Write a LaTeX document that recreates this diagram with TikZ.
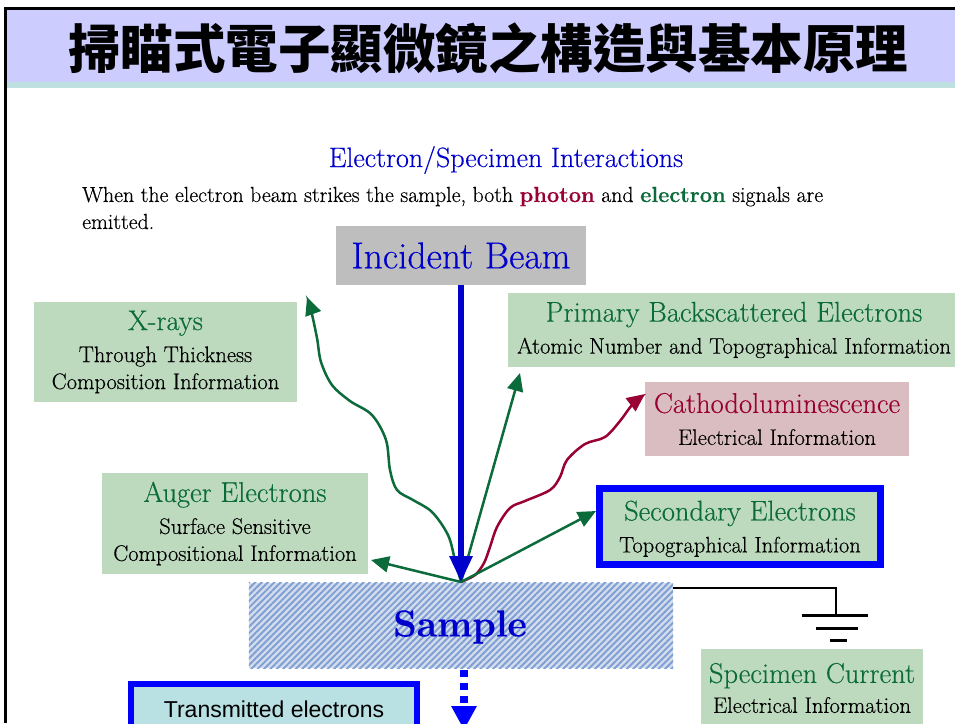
\documentclass[tikz,border=0pt]{standalone}
\usepackage{fontspec}
\setmainfont{Latin Modern Roman}[FakeBold=0.35]
\newfontfamily\cjkfont{Noto Sans CJK TC}
\newfontfamily\arialfont{Liberation Sans}
\usetikzlibrary{arrows.meta,patterns.meta}
\definecolor{lav}{HTML}{CCCCFF}
\definecolor{tealstrip}{HTML}{BFE0E0}
\definecolor{gfill}{HTML}{BDDABE}
\definecolor{pfill}{HTML}{DABDC0}
\definecolor{tgreen}{HTML}{0B6B3A}
\definecolor{crim}{HTML}{990033}
\definecolor{tblue}{HTML}{0000CC}
\definecolor{bblue}{HTML}{0000FF}
\definecolor{grayfill}{HTML}{BEBEBE}
\definecolor{transfill}{HTML}{B9E0E2}
\definecolor{stripe}{HTML}{7E9FD6}
\definecolor{samplebg}{HTML}{D3DCEA}
\newcommand{\boxtitle}[2]{{\fontsize{28.5}{28}\selectfont\color{#1}#2}}
\tikzset{
  gbox/.style={fill=gfill, inner sep=0pt, align=center, font=\fontsize{22.5}{27}\selectfont},
  pbox/.style={gbox, fill=pfill},
  garrow/.style={draw=tgreen, line width=2.5pt, -{Triangle[length=18pt,width=16pt]}},
  carrow/.style={draw=crim, line width=2.5pt, -{Triangle[length=18pt,width=16pt]}},
  barrow/.style={draw=tblue, line width=6pt, -{Triangle[length=26pt,width=22pt]}},
}
\begin{document}
\begin{tikzpicture}[x=1pt,y=-1pt]
\useasboundingbox (0,0) rectangle (955,723);
\fill[white] (0,0) rectangle (955,723);
% title band
\fill[lav] (5,9) rectangle (955,82);
\fill[tealstrip] (5,82) rectangle (955,88);
\draw[line width=3pt] (5,723) -- (5,8.5) -- (955,8.5);
\node (title) at (488,48) {\cjkfont\bfseries\fontsize{52.5}{56}\selectfont 掃瞄式電子顯微鏡之構造與基本原理};
% heading
\node[text=tblue, font=\fontsize{28}{30}\selectfont] (heading) at (506,160) {Electron/Specimen Interactions};
\node[anchor=west, align=left, font=\fontsize{21.8}{27}\selectfont, inner sep=0pt] (intro) at (82,208)
  {When the electron beam strikes the sample, both {\bfseries\color{crim}photon} and {\bfseries\color{tgreen}electron} signals are\\ emitted.};
% incident beam
\node[fill=grayfill, minimum width=250pt, minimum height=59pt, inner sep=0pt, text=tblue, font=\fontsize{37.5}{40}\selectfont] (incident) at (461,255.5) {Incident Beam};
% boxes
\node[gbox, minimum width=263pt, minimum height=100pt] (xray) at (165.5,352)
  {\boxtitle{tgreen}{X-rays}\\[5pt] Through Thickness\\ Composition Information};
\node[gbox, minimum width=452pt, minimum height=74pt] (primary) at (734,330)
  {\boxtitle{tgreen}{Primary Backscattered Electrons}\\[5pt] Atomic Number and Topographical Information};
\node[pbox, minimum width=264pt, minimum height=74pt] (cathodo) at (777,419)
  {\boxtitle{crim}{Cathodoluminescence}\\[5pt] Electrical Information};
\node[gbox, minimum width=266pt, minimum height=101pt] (auger) at (235,523.5)
  {\boxtitle{tgreen}{Auger Electrons}\\[5pt] Surface Sensitive\\ Compositional Information};
\node[gbox, draw=bblue, line width=7pt, minimum width=281pt, minimum height=76pt, text depth=0pt] (secondary) at (740,526.5)
  {\boxtitle{tgreen}{Secondary Electrons}\\[5pt] Topographical Information};
\node[gbox, minimum width=222pt, minimum height=78pt] (specimen) at (812,688)
  {\boxtitle{tgreen}{Specimen Current}\\[3pt] Electrical Information};
% sample
\node[fill=samplebg, minimum width=424pt, minimum height=85pt, inner sep=0pt] (samplebox) at (461,625.5) {};
\fill[pattern={Lines[angle=45,distance=4.5pt,line width=1.9pt]}, pattern color=stripe] (samplebox.north west) rectangle (samplebox.south east);
\node[text=tblue, font=\bfseries\fontsize{37.5}{40}\selectfont] (sample) at (460,627) {Sample};
% transmitted
\node[draw=bblue, line width=6pt, fill=transfill, minimum width=286pt, minimum height=51pt, inner sep=0pt, font=\arialfont\fontsize{23}{26}\selectfont] (trans) at (274,709.5) {Transmitted electrons};
% origin and tips
\coordinate (o) at (461,582);
\coordinate (xtip) at (307,297);
\coordinate (ptip) at (520,373);
\coordinate (ctip) at (645,394);
\coordinate (stip) at (596,511);
\coordinate (atip) at (371,560);
\coordinate (dtop) at (464,670);
\coordinate (dtip) at (464,730);
% arrows
\draw[garrow] plot[smooth, tension=0.55] coordinates {(o) (455,560) (448,535) (432,512) (413,500) (397,490) (390,470) (386,440) (372,415) (350,401) (332,385) (321,362) (317,338) (311,310) (xtip)};
\draw[carrow] plot[smooth, tension=0.55] coordinates {(o) (475,575) (484,563) (490,547) (497,527) (510,508) (525,501) (550,490) (560,477) (567,460) (585,444) (605,437) (620,421) (632,405) (ctip)};
\draw[garrow] (o) -- (ptip);
\draw[garrow] (o) -- (stip);
\draw[garrow] (o) -- (atip);
\draw[barrow] (incident.south) -- (o);
\draw[draw=bblue, line width=8pt, dash pattern=on 7pt off 6pt, -{Triangle[length=24pt,width=24pt]}] (dtop) -- (dtip);
% ground
\coordinate (gcorner) at (836,588);
\coordinate (gbar) at (836,615);
\draw[line width=1.6pt] (samplebox.north east |- gcorner) -- (gcorner) -- (gbar);
\draw[line width=3pt] (802,615) -- (868,615);
\draw[line width=3pt] (816,628) -- (858,628);
\draw[line width=3pt] (830,640) -- (847,640);
\end{tikzpicture}
\end{document}
